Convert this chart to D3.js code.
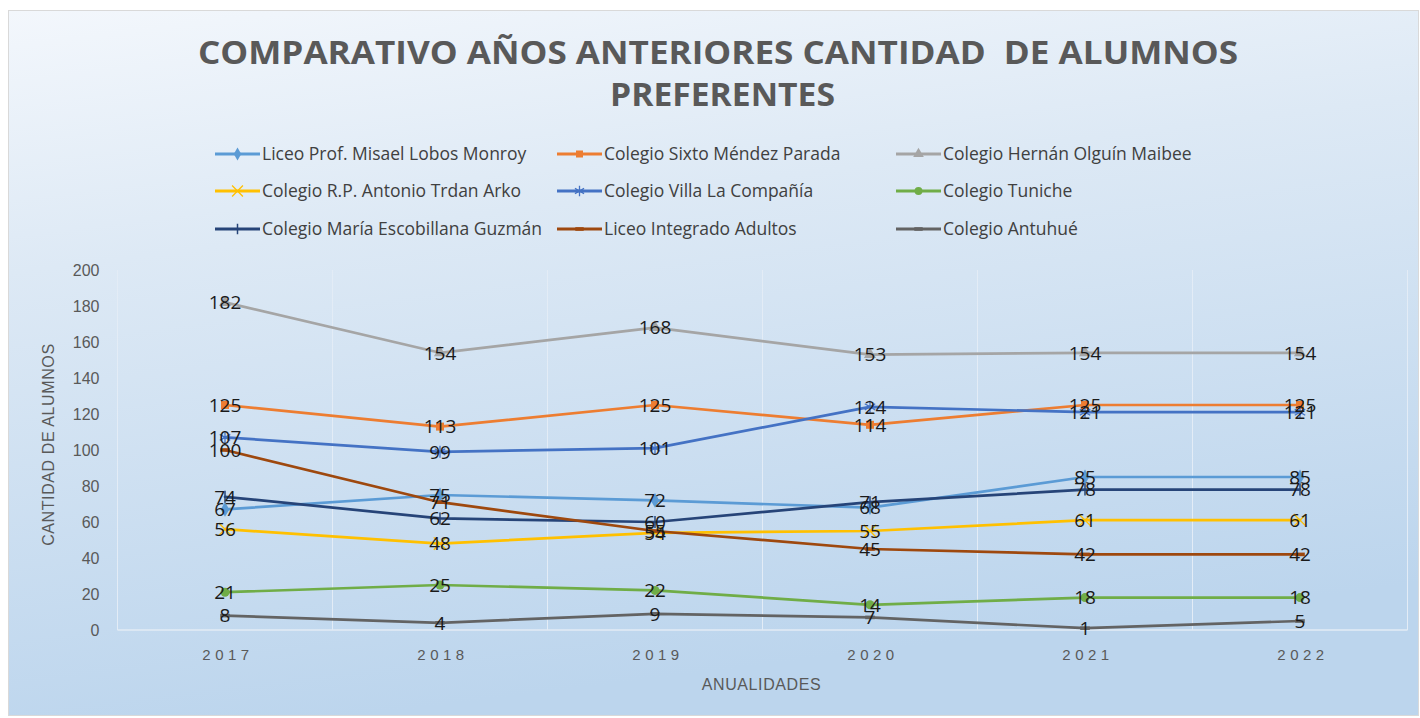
<!DOCTYPE html>
<html>
<head>
<meta charset="utf-8">
<script src="https://cdn.jsdelivr.net/npm/d3@7"></script>
<style>
  html, body { margin: 0; padding: 0; background: #fff; }
  svg { display: block; }
  text { font-family: "Open Sans", "Liberation Sans", sans-serif; }
</style>
</head>
<body>
<div id="chart"></div>
<script>
// --- data ---
const years = ["2017", "2018", "2019", "2020", "2021", "2022"]

const seriesNames = [
  "Liceo Prof. Misael Lobos Monroy",
  "Colegio Sixto Méndez Parada",
  "Colegio Hernán Olguín Maibee",
  "Colegio R.P. Antonio Trdan Arko",
  "Colegio Villa La Compañía",
  "Colegio Tuniche",
  "Colegio María Escobillana Guzmán",
  "Liceo Integrado Adultos",
  "Colegio Antuhué"
]

const misael     = [67, 75, 72, 68, 85, 85]
const sixto      = [125, 113, 125, 114, 125, 125]
const hernan     = [182, 154, 168, 153, 154, 154]
const trdan      = [56, 48, 54, 55, 61, 61]
const villa      = [107, 99, 101, 124, 121, 121]
const tuniche    = [21, 25, 22, 14, 18, 18]
const escobillana = [74, 62, 60, 71, 78, 78]
const adultos    = [100, 71, 55, 45, 42, 42]
const antuhue    = [8, 4, 9, 7, 1, 5]

const seriesValues = [misael, sixto, hernan, trdan, villa, tuniche, escobillana, adultos, antuhue]
const seriesColors = ["#5B9BD5", "#ED7D31", "#A5A5A5", "#FFC000", "#4472C4", "#70AD47", "#264478", "#9E480E", "#636363"]
const seriesMarkers = ["diamond", "square", "triangle", "x", "asterisk", "circle", "plus", "dash", "dash"]

const yTicks = [0, 20, 40, 60, 80, 100, 120, 140, 160, 180, 200]

const W = 1420, H = 718
const margin = { left: 117.5, right: 12.5, top: 270, bottom: 88 }

const svg = d3.select("#chart").append("svg")
  .attr("width", W)
  .attr("height", H)

// background gradient
const defs = svg.append("defs")
const grad = defs.append("linearGradient")
  .attr("id", "bg")
  .attr("x1", "0").attr("y1", "0")
  .attr("x2", "0.25").attr("y2", "1")
grad.append("stop").attr("offset", "0%").attr("stop-color", "#f3f7fc")
grad.append("stop").attr("offset", "35%").attr("stop-color", "#dde9f5")
grad.append("stop").attr("offset", "100%").attr("stop-color", "#bcd5ed")

svg.append("rect")
  .attr("x", 8.5).attr("y", 10.5)
  .attr("width", W - 10).attr("height", H - 13)
  .attr("fill", "url(#bg)")
  .attr("stroke", "#d9d9d9")

// scales
const x = d3.scaleBand()
  .domain(years)
  .range([margin.left, W - margin.right])
const xc = d => x(d) + x.bandwidth() / 2

const y = d3.scaleLinear()
  .domain([0, 200])
  .range([H - margin.bottom, margin.top])

// vertical grid lines at category boundaries
const gridX = years.map(d => x(d)).concat([x(years[years.length - 1]) + x.bandwidth()])
svg.append("g").selectAll("line")
  .data(gridX)
  .join("line")
  .attr("x1", d => d).attr("x2", d => d)
  .attr("y1", y(200)).attr("y2", y(0))
  .attr("stroke", "#e3ecf6")
  .attr("stroke-width", 1)

// baseline
svg.append("line")
  .attr("x1", margin.left).attr("x2", W - margin.right)
  .attr("y1", y(0)).attr("y2", y(0))
  .attr("stroke", "#e3ebf4")
  .attr("stroke-width", 1.5)

// y axis
const yAxis = svg.append("g")
  .attr("transform", `translate(${margin.left},0)`)
  .call(d3.axisLeft(y).tickValues(yTicks).tickSize(0).tickPadding(18))
yAxis.select(".domain").remove()
yAxis.selectAll("text")
  .attr("fill", "#595959")
  .style("font-family", "Liberation Sans, sans-serif")
  .style("font-size", "16px")

// x axis
const xAxis = svg.append("g")
  .attr("transform", `translate(0,${y(0)})`)
  .call(d3.axisBottom(x).tickSize(0).tickPadding(19))
xAxis.select(".domain").remove()
xAxis.selectAll("text")
  .attr("fill", "#595959")
  .attr("dx", "3px")
  .style("font-family", "Liberation Sans, sans-serif")
  .style("font-size", "15px")
  .style("letter-spacing", "4.5px")

// axis titles
svg.append("text")
  .attr("x", (margin.left + W - margin.right) / 2 - 1)
  .attr("y", 690)
  .attr("text-anchor", "middle")
  .attr("fill", "#595959")
  .style("font-family", "Liberation Sans, sans-serif")
  .style("font-size", "16px")
  .style("letter-spacing", "0.6px")
  .text("ANUALIDADES")

svg.append("text")
  .attr("transform", `translate(54,${y(103)}) rotate(-90)`)
  .attr("text-anchor", "middle")
  .attr("fill", "#595959")
  .style("font-family", "Liberation Sans, sans-serif")
  .style("font-size", "16px")
  .style("letter-spacing", "0.6px")
  .text("CANTIDAD DE ALUMNOS")

// title
const title = svg.append("g")
  .attr("fill", "#595959")
  .style("font-family", "Open Sans, sans-serif")
  .style("font-weight", "bold")
  .style("font-size", "32px")
title.append("text")
  .attr("x", 198).attr("y", 64)
  .attr("textLength", 1040)
  .attr("lengthAdjust", "spacingAndGlyphs")
  .attr("xml:space", "preserve")
  .style("white-space", "pre")
  .text("COMPARATIVO AÑOS ANTERIORES CANTIDAD  DE ALUMNOS")
title.append("text")
  .attr("x", 610).attr("y", 106)
  .attr("textLength", 225)
  .attr("lengthAdjust", "spacingAndGlyphs")
  .text("PREFERENTES")

// marker drawing helper
function drawMarker(g, type, color, size) {
  const s = size
  if (type === "dash") {
    g.append("rect").attr("x", -s * 0.6).attr("y", -1.8).attr("width", s * 1.2).attr("height", 3.6).attr("fill", color)
    return
  }
  if (type === "plus") {
    g.append("line").attr("x1", 0).attr("x2", 0).attr("y1", -s * 0.75).attr("y2", s * 0.75)
      .attr("stroke", color).attr("stroke-width", 1.5)
    return
  }
  if (type === "x" || type === "asterisk") {
    const sym = type === "x" ? d3.symbolTimes : d3.symbolAsterisk
    g.append("path").attr("d", d3.symbol(sym, s * s * 1.6)()).attr("fill", "none").attr("stroke", color).attr("stroke-width", 1.3)
    return
  }
  const symType = { diamond: d3.symbolDiamond, square: d3.symbolSquare, triangle: d3.symbolTriangle, circle: d3.symbolCircle }[type]
  g.append("path").attr("d", d3.symbol(symType, s * s)()).attr("fill", color)
}

// lines
const line = d3.line()
  .x((d, i) => xc(years[i]))
  .y(d => y(d))

const seriesG = svg.append("g")
seriesValues.forEach((vals, si) => {
  seriesG.append("path")
    .datum(vals)
    .attr("d", line)
    .attr("fill", "none")
    .attr("stroke", seriesColors[si])
    .attr("stroke-width", 2.7)
    .attr("stroke-linejoin", "round")
    .attr("stroke-linecap", "round")
  vals.forEach((v, i) => {
    const mg = seriesG.append("g").attr("transform", `translate(${xc(years[i])},${y(v)})`)
    drawMarker(mg, seriesMarkers[si], seriesColors[si], 8)
  })
})

// data labels, centered on the points
const labelG = svg.append("g")
  .attr("text-anchor", "middle")
  .attr("fill", "#1a1a1a")
  .style("font-family", "Liberation Sans, sans-serif")
  .style("font-size", "19px")
seriesValues.forEach(vals => {
  vals.forEach((v, i) => {
    labelG.append("text")
      .attr("x", xc(years[i]))
      .attr("y", y(v))
      .attr("dy", "0.36em")
      .text(v)
  })
})

// legend
const legendCols = [215, 557, 896]
const legendRows = [154, 191, 229]
const legend = svg.append("g")
seriesNames.forEach((name, i) => {
  const lx = legendCols[i % 3]
  const ly = legendRows[Math.floor(i / 3)]
  const g = legend.append("g").attr("transform", `translate(${lx},${ly})`)
  g.append("line")
    .attr("x1", 0).attr("x2", 45)
    .attr("y1", 0).attr("y2", 0)
    .attr("stroke", seriesColors[i])
    .attr("stroke-width", 2.8)
  const mg = g.append("g").attr("transform", "translate(22.5,0)")
  drawMarker(mg, seriesMarkers[i], seriesColors[i], 7)
  g.append("text")
    .attr("x", 47)
    .attr("dy", "0.35em")
    .attr("fill", "#404040")
    .style("font-size", "17.5px")
    .text(name)
})
</script>
</body>
</html>
